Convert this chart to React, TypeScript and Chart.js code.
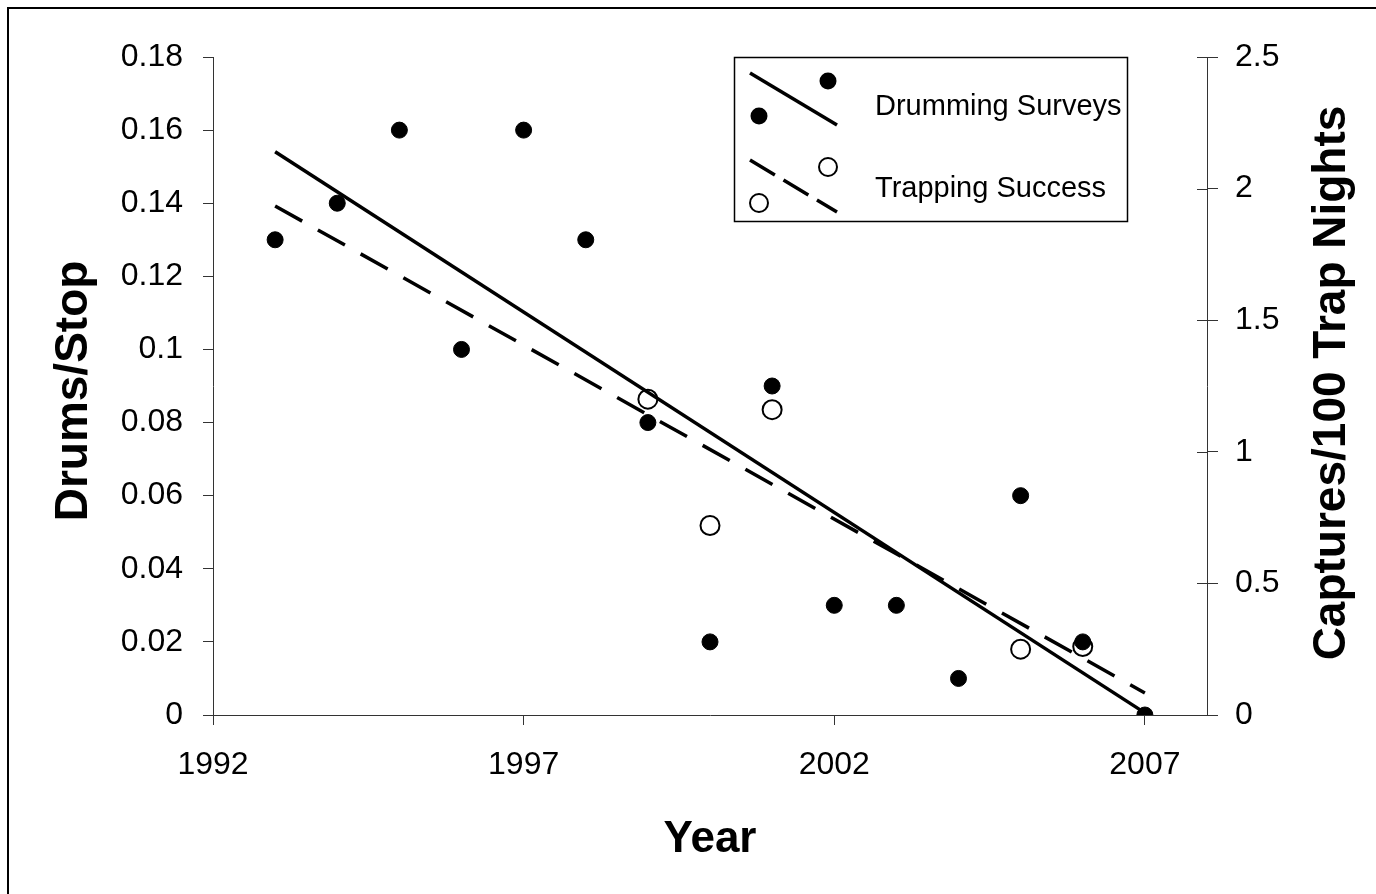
import React, { useEffect, useRef } from "react";
import { Chart, registerables } from "chart.js";

Chart.register(...registerables);

// ---------- data ----------
const DRUM_YEARS = [1993, 1994, 1995, 1996, 1997, 1998, 1999, 2000, 2001, 2002, 2003, 2004, 2005, 2006, 2007];
const DRUM_VALUES = [0.13, 0.14, 0.16, 0.1, 0.16, 0.13, 0.08, 0.02, 0.09, 0.03, 0.03, 0.01, 0.06, 0.02, 0];
const TRAP_YEARS = [1999, 2000, 2001, 2005, 2006];
const TRAP_VALUES = [1.2, 0.72, 1.16, 0.25, 0.26];
const TREND_YEARS = [1993, 2007];

const X_TICKS = [1992, 1997, 2002, 2007];
const LEFT_TICKS = [0, 0.02, 0.04, 0.06, 0.08, 0.1, 0.12, 0.14, 0.16, 0.18];
const RIGHT_TICKS = [0, 0.5, 1, 1.5, 2, 2.5];

const SERIES_NAMES = ["Drumming Surveys", "Trapping Success"];
const X_TITLE = "Year";
const LEFT_TITLE = "Drums/Stop";
const RIGHT_TITLE = "Captures/100 Trap Nights";

const FONT = "'Liberation Sans', Arial, Helvetica, sans-serif";
const AXIS_COLOR = "#333";

function linFit(xs: number[], ys: number[]) {
  const n = xs.length;
  const mx = xs.reduce((a, b) => a + b, 0) / n;
  const my = ys.reduce((a, b) => a + b, 0) / n;
  let sxy = 0;
  let sxx = 0;
  for (let i = 0; i < n; i++) {
    sxy += (xs[i] - mx) * (ys[i] - my);
    sxx += (xs[i] - mx) * (xs[i] - mx);
  }
  const b = sxy / sxx;
  return (x: number) => my + b * (x - mx);
}

const drumFit = linFit(DRUM_YEARS, DRUM_VALUES);
const trapFit = linFit(TRAP_YEARS, TRAP_VALUES);

const decorPlugin = {
  id: "decor",
  afterDraw(chart: any) {
    const ctx = chart.ctx as CanvasRenderingContext2D;
    const ca = chart.chartArea;
    const yR = chart.scales.y2;
    ctx.save();
    // inward part of right-axis ticks
    ctx.strokeStyle = AXIS_COLOR;
    ctx.lineWidth = 1;
    yR.ticks.forEach((t: any) => {
      const py = Math.round(yR.getPixelForValue(t.value)) + 0.5;
      ctx.beginPath();
      ctx.moveTo(ca.right - 10, py);
      ctx.lineTo(ca.right, py);
      ctx.stroke();
    });

    // axis titles
    ctx.fillStyle = "#000";
    ctx.textAlign = "center";
    ctx.textBaseline = "alphabetic";
    ctx.font = `bold 46px ${FONT}`;
    ctx.save();
    ctx.translate(87, 391);
    ctx.rotate(-Math.PI / 2);
    ctx.fillText(LEFT_TITLE, 0, 0);
    ctx.restore();
    ctx.save();
    ctx.translate(1345, 383);
    ctx.rotate(-Math.PI / 2);
    ctx.fillText(RIGHT_TITLE, 0, 0);
    ctx.restore();
    ctx.font = `bold 44px ${FONT}`;
    ctx.fillText(X_TITLE, (ca.left + ca.right) / 2, 852);

    // legend
    const lx = 734;
    const ly = 57;
    ctx.lineWidth = 1.5;
    ctx.strokeStyle = "#000";
    ctx.strokeRect(lx + 0.5, ly + 0.5, 393, 164);

    // drumming entry
    ctx.lineWidth = 3.5;
    ctx.setLineDash([]);
    ctx.beginPath();
    ctx.moveTo(lx + 16, ly + 16);
    ctx.lineTo(lx + 103, ly + 68);
    ctx.stroke();
    ctx.fillStyle = "#000";
    [[lx + 94, ly + 24], [lx + 25, ly + 59]].forEach(([x, y]) => {
      ctx.beginPath();
      ctx.arc(x, y, 8.5, 0, Math.PI * 2);
      ctx.fill();
    });

    // trapping entry
    ctx.setLineDash([29, 10]);
    ctx.beginPath();
    ctx.moveTo(lx + 16, ly + 103);
    ctx.lineTo(lx + 103, ly + 155);
    ctx.stroke();
    ctx.setLineDash([]);
    ctx.lineWidth = 2;
    [[lx + 94, ly + 110], [lx + 25, ly + 146]].forEach(([x, y]) => {
      ctx.beginPath();
      ctx.arc(x, y, 9, 0, Math.PI * 2);
      ctx.fillStyle = "#fff";
      ctx.fill();
      ctx.stroke();
    });

    ctx.fillStyle = "#000";
    ctx.textAlign = "left";
    ctx.font = `29px ${FONT}`;
    ctx.fillText(SERIES_NAMES[0], lx + 141, ly + 58);
    ctx.fillText(SERIES_NAMES[1], lx + 141, ly + 140);
    ctx.restore();
  },
};

export default function App() {
  const canvasRef = useRef<HTMLCanvasElement | null>(null);

  useEffect(() => {
    if (!canvasRef.current) return;
    const chart = new Chart(canvasRef.current, {
      type: "scatter",
      data: {
        datasets: [
          {
            type: "line",
            label: SERIES_NAMES[0] + " trend",
            data: TREND_YEARS.map((x) => ({ x, y: drumFit(x) })),
            yAxisID: "y",
            borderColor: "#000",
            borderWidth: 3.5,
            pointRadius: 0,
            fill: false,
            order: 0,
          },
          {
            type: "line",
            label: SERIES_NAMES[1] + " trend",
            data: TREND_YEARS.map((x) => ({ x, y: trapFit(x) })),
            yAxisID: "y2",
            borderColor: "#000",
            borderWidth: 3.5,
            borderDash: [31, 18],
            pointRadius: 0,
            fill: false,
            order: 1,
          },
          {
            label: SERIES_NAMES[0],
            data: DRUM_YEARS.map((x, i) => ({ x, y: DRUM_VALUES[i] })),
            yAxisID: "y",
            backgroundColor: "#000",
            borderColor: "#000",
            borderWidth: 1,
            pointRadius: 8,
            order: 2,
          },
          {
            label: SERIES_NAMES[1],
            data: TRAP_YEARS.map((x, i) => ({ x, y: TRAP_VALUES[i] })),
            yAxisID: "y2",
            backgroundColor: "#fff",
            borderColor: "#000",
            borderWidth: 2,
            pointRadius: 9.5,
            order: 3,
          },
        ],
      },
      options: {
        responsive: false,
        animation: false,
        devicePixelRatio: 1,
        layout: { padding: { top: 57, left: 0, right: 0, bottom: 0 } },
        plugins: {
          legend: { display: false },
          tooltip: { enabled: false },
          title: { display: false },
        },
        scales: {
          x: {
            type: "linear",
            position: "bottom",
            min: 1992,
            max: 2008,
            afterBuildTicks: (s: any) => {
              s.ticks = X_TICKS.map((v) => ({ value: v }));
            },
            afterFit: (s: any) => {
              s.height = 894 - 715;
            },
            ticks: {
              color: "#000",
              font: { family: FONT, size: 32 },
              padding: 21,
              maxRotation: 0,
              autoSkip: false,
              callback: (v: any) => String(v),
            },
            grid: { drawOnChartArea: false, drawTicks: true, tickLength: 10, color: AXIS_COLOR },
            border: { display: true, color: AXIS_COLOR, width: 1 },
          },
          y: {
            type: "linear",
            position: "left",
            min: 0,
            max: 0.18,
            afterBuildTicks: (s: any) => {
              s.ticks = LEFT_TICKS.map((v) => ({ value: v }));
            },
            afterFit: (s: any) => {
              s.width = 213;
            },
            ticks: {
              color: "#000",
              font: { family: FONT, size: 32 },
              padding: 20,
              autoSkip: false,
              callback: (v: any) => String(v),
            },
            grid: { drawOnChartArea: false, drawTicks: true, tickLength: 10, color: AXIS_COLOR },
            border: { display: true, color: AXIS_COLOR, width: 1 },
          },
          y2: {
            type: "linear",
            position: "right",
            min: 0,
            max: 2.5,
            afterBuildTicks: (s: any) => {
              s.ticks = RIGHT_TICKS.map((v) => ({ value: v }));
            },
            afterFit: (s: any) => {
              s.width = 1376 - 1207;
            },
            ticks: {
              color: "#000",
              font: { family: FONT, size: 32 },
              padding: 17,
              autoSkip: false,
              callback: (v: any) => String(v),
            },
            grid: { drawOnChartArea: false, drawTicks: true, tickLength: 11, color: AXIS_COLOR },
            border: { display: true, color: AXIS_COLOR, width: 1 },
          },
        },
      },
      plugins: [decorPlugin],
    } as any);
    return () => chart.destroy();
  }, []);

  return (
    <div
      style={{
        position: "absolute",
        left: 0,
        top: 0,
        width: 1376,
        height: 894,
        overflow: "hidden",
        background: "#fff",
      }}
    >
      <canvas
        ref={canvasRef}
        width={1376}
        height={894}
        style={{ position: "absolute", left: 0, top: 0, width: 1376, height: 894 }}
      />
      <div
        style={{
          position: "absolute",
          left: 7,
          top: 7,
          width: 2000,
          height: 2000,
          borderLeft: "2px solid #000",
          borderTop: "2px solid #000",
          pointerEvents: "none",
        }}
      />
    </div>
  );
}
